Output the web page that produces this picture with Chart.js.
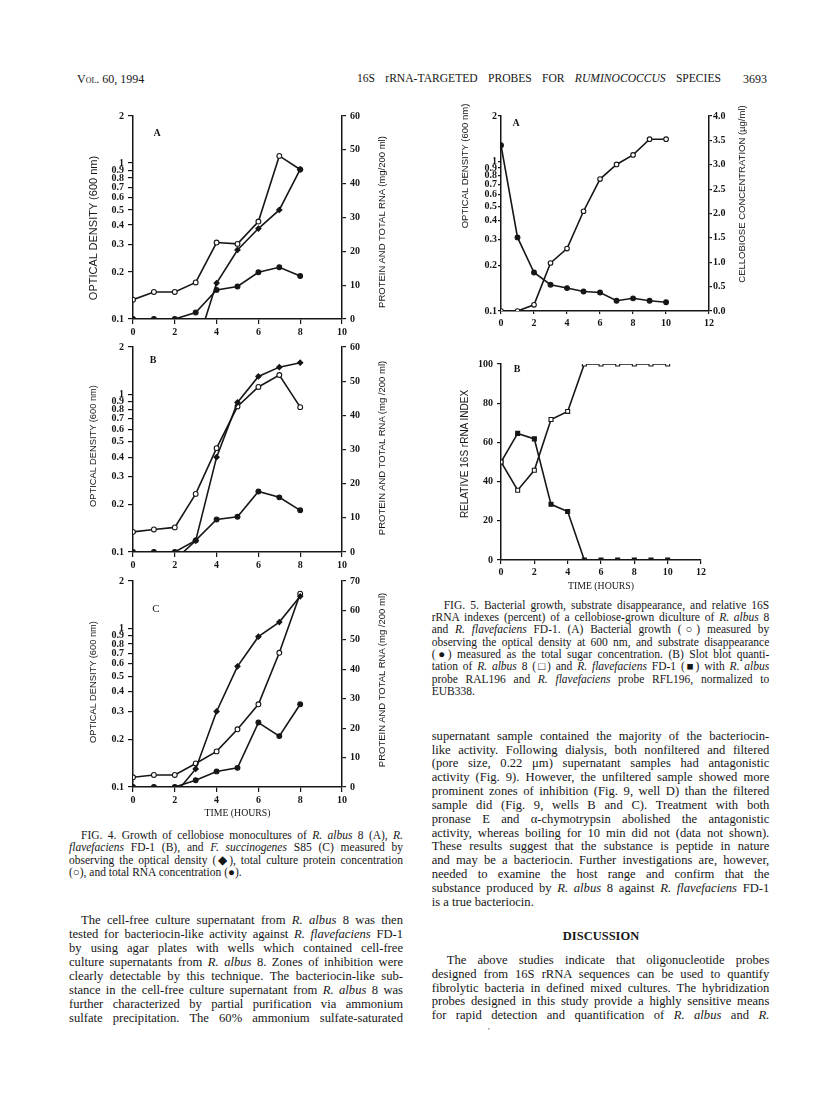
<!DOCTYPE html>
<html>
<head>
<meta charset="utf-8">
<title>16S rRNA-targeted probes for Ruminococcus species, p. 3693</title>
<script src="https://cdn.jsdelivr.net/npm/chart.js@4.4.1/dist/chart.umd.min.js"></script>
<style>
  html, body { margin: 0; padding: 0; background: #fff; }
  #page { position: relative; width: 816px; height: 1097px; overflow: hidden;
          font-family: "Liberation Serif", "Times New Roman", serif; color: #161616; }
  canvas { position: absolute; }
  .txt { position: absolute; white-space: nowrap; }
  .col { position: absolute; }
  .col div { text-align: justify; text-align-last: justify; }
  .col div.end { text-align-last: left; }
  .col div.ind { text-indent: 12px; }
  .panel { position: absolute; font-weight: bold; font-size: 10px; transform: translate(-50%, -50%); }
  /* rotated axis titles: fixed even-sized box so the text stays on whole pixels */
  .ytitle { position: absolute; width: 220px; height: 12px; margin-left: -110px; margin-top: -6px;
            text-align: center; white-space: nowrap; color: #161616;
            font-family: "Liberation Sans", Arial, sans-serif; font-size: 9.5px; line-height: 12px;
            transform: rotate(-90deg); }
</style>
</head>
<body>
<div id="page">

  <div class="txt" style="left:77px; top:72px; font-size:12px; line-height:14px; font-variant:small-caps;">Vol. 60, 1994</div>
  <div class="col" style="left:357px; top:72px; width:364px; font-size:11.6px; line-height:14px;">
    <div>16S rRNA-TARGETED PROBES FOR <i>RUMINOCOCCUS</i> SPECIES</div>
  </div>
  <div class="txt" style="left:743px; top:72px; font-size:12px; line-height:14px;">3693</div>

  <canvas id="fig4a" width="300" height="233" style="left:87px; top:106px;"></canvas>
  <canvas id="fig4b" width="300" height="235" style="left:87px; top:337px;"></canvas>
  <canvas id="fig4c" width="300" height="248" style="left:87px; top:571px;"></canvas>
  <canvas id="fig5a" width="288" height="227" style="left:459px; top:106px;"></canvas>
  <canvas id="fig5b" width="254" height="238" style="left:459px; top:354px;"></canvas>

  <!-- axis titles (all read bottom to top, as printed) -->
  <div class="ytitle" style="left:93px; top:228px; font-size:11px;">OPTICAL DENSITY (600 nm)</div>
  <div class="ytitle" style="left:382px; top:222px;">PROTEIN AND TOTAL RNA (mg/200 ml)</div>
  <div class="ytitle" style="left:93px; top:446px; font-size:9.3px;">OPTICAL DENSITY (600 nm)</div>
  <div class="ytitle" style="left:382px; top:448px;">PROTEIN AND TOTAL RNA (mg /200 ml)</div>
  <div class="ytitle" style="left:93px; top:682px; font-size:9.3px;">OPTICAL DENSITY (600 nm)</div>
  <div class="ytitle" style="left:382px; top:680px;">PROTEIN AND TOTAL RNA (mg /200 ml)</div>
  <div class="ytitle" style="left:465px; top:166px;">OPTICAL DENSITY (600 nm)</div>
  <div class="ytitle" style="left:742px; top:194px;">CELLOBIOSE CONCENTRATION (µg/ml)</div>
  <div class="ytitle" style="left:465px; top:454px; font-size:10px;">RELATIVE 16S rRNA INDEX</div>

  <div class="panel" style="left:157px; top:132px;">A</div>
  <div class="panel" style="left:153px; top:359px;">B</div>
  <div class="panel" style="left:156px; top:608px; font-size:11px; font-weight:normal;">C</div>
  <div class="panel" style="left:516px; top:122px;">A</div>
  <div class="panel" style="left:517px; top:368px;">B</div>

  <div class="col" style="left:69px; top:828.7px; width:334px; font-size:11.5px; line-height:12.6px;">
    <div class="ind">FIG. 4. Growth of cellobiose monocultures of <i>R. albus</i> 8 (A), <i>R.</i></div>
    <div><i>flavefaciens</i> FD-1 (B), and <i>F. succinogenes</i> S85 (C) measured by</div>
    <div>observing the optical density (◆), total culture protein concentration</div>
    <div class="end">(○), and total RNA concentration (●).</div>
  </div>

  <div class="col" style="left:69px; top:913px; width:334px; font-size:12.6px; line-height:14.05px;">
    <div class="ind">The cell-free culture supernatant from <i>R. albus</i> 8 was then</div>
    <div>tested for bacteriocin-like activity against <i>R. flavefaciens</i> FD-1</div>
    <div>by using agar plates with wells which contained cell-free</div>
    <div>culture supernatants from <i>R. albus</i> 8. Zones of inhibition were</div>
    <div>clearly detectable by this technique. The bacteriocin-like sub-</div>
    <div>stance in the cell-free culture supernatant from <i>R. albus</i> 8 was</div>
    <div>further characterized by partial purification via ammonium</div>
    <div>sulfate precipitation. The 60% ammonium sulfate-saturated</div>
  </div>

  <div class="col" style="left:431.7px; top:598.85px; width:337.6px; font-size:11.5px; line-height:12.3px;">
    <div class="ind">FIG. 5. Bacterial growth, substrate disappearance, and relative 16S</div>
    <div>rRNA indexes (percent) of a cellobiose-grown diculture of <i>R. albus</i> 8</div>
    <div>and <i>R. flavefaciens</i> FD-1. (A) Bacterial growth (○) measured by</div>
    <div>observing the optical density at 600 nm, and substrate disappearance</div>
    <div>(●) measured as the total sugar concentration. (B) Slot blot quanti-</div>
    <div>tation of <i>R. albus</i> 8 (□) and <i>R. flavefaciens</i> FD-1 (■) with <i>R. albus</i></div>
    <div>probe RAL196 and <i>R. flavefaciens</i> probe RFL196, normalized to</div>
    <div class="end">EUB338.</div>
  </div>

  <div class="col" style="left:431.7px; top:729.8px; width:337.6px; font-size:12.6px; line-height:13.83px;">
    <div>supernatant sample contained the majority of the bacteriocin-</div>
    <div>like activity. Following dialysis, both nonfiltered and filtered</div>
    <div>(pore size, 0.22 μm) supernatant samples had antagonistic</div>
    <div>activity (Fig. 9). However, the unfiltered sample showed more</div>
    <div>prominent zones of inhibition (Fig. 9, well D) than the filtered</div>
    <div>sample did (Fig. 9, wells B and C). Treatment with both</div>
    <div>pronase E and α-chymotrypsin abolished the antagonistic</div>
    <div>activity, whereas boiling for 10 min did not (data not shown).</div>
    <div>These results suggest that the substance is peptide in nature</div>
    <div>and may be a bacteriocin. Further investigations are, however,</div>
    <div>needed to examine the host range and confirm that the</div>
    <div>substance produced by <i>R. albus</i> 8 against <i>R. flavefaciens</i> FD-1</div>
    <div class="end">is a true bacteriocin.</div>
  </div>

  <div class="txt" style="left:601px; top:929px; transform:translateX(-50%); font-size:12.5px; line-height:14px; font-weight:bold;">DISCUSSION</div>

  <div class="col" style="left:431.7px; top:954.1px; width:337.6px; font-size:12.6px; line-height:13.75px;">
    <div style="text-indent:15px;">The above studies indicate that oligonucleotide probes</div>
    <div>designed from 16S rRNA sequences can be used to quantify</div>
    <div>fibrolytic bacteria in defined mixed cultures. The hybridization</div>
    <div>probes designed in this study provide a highly sensitive means</div>
    <div>for rapid detection and quantification of <i>R. albus</i> and <i>R.</i></div>
  </div>
  <div class="txt" style="left:488px; top:1027px; font-size:8px; line-height:10px;">'</div>
</div>

<script>
// --- Fig. 4: monocultures ---
const hours4 = [0, 1, 2, 3, 4, 5, 6, 7, 8];

// (A) R. albus 8
const odA = [null, null, null, 0.064, 0.17, 0.277, 0.38, 0.50, 0.91];
const proteinA = [5.7, 8.0, 8.0, 10.8, 22.6, 22.2, 28.8, 48.2, 44.2];
const rnaA = [0, 0, 0, 1.9, 8.6, 9.6, 13.8, 15.3, 12.7];

// (B) R. flavefaciens FD-1
const odB = [null, null, 0.089, 0.118, 0.40, 0.89, 1.30, 1.49, 1.59];
const proteinB = [5.9, 6.6, 7.2, 17.0, 30.4, 42.6, 48.3, 51.8, 42.4];
const rnaB = [0, 0, 0, 3.4, 9.5, 10.3, 17.7, 16.0, 12.2];

// (C) F. succinogenes S85
const odC = [null, null, 0.090, 0.13, 0.30, 0.578, 0.89, 1.10, 1.60];
const proteinC = [3.3, 4.1, 4.1, 8.0, 12.1, 19.6, 28.1, 45.6, 65.7];
const rnaC = [0, 0, 0, 2.3, 5.3, 6.5, 21.9, 17.3, 28.1];

// --- Fig. 5: diculture ---
const hours5 = [0, 1, 2, 3, 4, 5, 6, 7, 8, 9, 10];
const growth5 = [0.1, 0.1, 0.11, 0.209, 0.261, 0.463, 0.759, 0.95, 1.10, 1.40, 1.40];
const cellobiose5 = [3.40, 1.51, 0.79, 0.54, 0.47, 0.40, 0.38, 0.21, 0.26, 0.21, 0.18];
const albusIndex = [50, 35.6, 45.8, 71.7, 75.8, 100, 100, 100, 100, 100, 100];
const flavIndex = [50, 64.6, 61.8, 28.4, 24.7, 0, 0, 0, 0, 0, 0];

// tick labels
const odTicks = [0.1, 0.2, 0.3, 0.4, 0.5, 0.6, 0.7, 0.8, 0.9, 1, 2];
// the printed Fig. 5A time axis puts its "12" at the end of the axis line
const x5aTickPos = [0, 2, 4, 6, 8, 10, 12.6];
const x5aTickLabels = ["0", "2", "4", "6", "8", "10", "12"];

const ink = "#161616";
const tickFont = { family: "Liberation Serif", size: 10, weight: "bold" };

// --- helpers ---
function pts(xs, ys) {
  return xs.map((x, i) => ({ x, y: ys[i] })).filter(p => p.y !== null);
}

function series(data, yAxisID, shape, fill, radius) {
  return {
    data, yAxisID,
    borderColor: ink, borderWidth: 1.6,
    pointStyle: shape, pointRadius: radius,
    pointBackgroundColor: fill, pointBorderColor: ink, pointBorderWidth: 1.1,
    tension: 0
  };
}

// fixed axis sizes so every plot area lands where the printed one is
function fit(size, horizontal) {
  return s => {
    if (horizontal) s.height = size; else s.width = size;
    s.paddingLeft = s.paddingRight = s.paddingTop = s.paddingBottom = 0;
  };
}

function look(tickLength) {
  return {
    border: { display: true, color: ink, width: 1.5 },
    grid: { drawOnChartArea: false, drawTicks: true, tickLength, color: ink, lineWidth: 1.2 }
  };
}

function xTitle(text) {
  return { display: true, text, color: ink, padding: 0,
           font: { family: "Liberation Serif", size: 9.8 } };
}

const baseOptions = {
  responsive: false,
  animation: false,
  plugins: { legend: { display: false }, tooltip: { enabled: false } }
};

// Fig. 4 panels share one layout
function growthChart(id, od, protein, rna, opts) {
  return new Chart(document.getElementById(id), {
    type: "line",
    data: {
      datasets: [
        series(pts(hours4, od), "yOD", "rectRot", ink, 2.6),
        series(pts(hours4, protein), "yMass", "circle", "#fff", 2.4),
        series(pts(hours4, rna), "yMass", "circle", ink, 2.4)
      ]
    },
    options: {
      ...baseOptions,
      layout: { padding: { top: 10, right: 0, bottom: 0, left: 0 } },
      scales: {
        x: {
          type: "linear", min: 0, max: 10, ...look(5),
          ticks: { stepSize: 2, font: tickFont, color: ink, padding: 2, maxRotation: 0 },
          title: opts.xTitle ? xTitle(opts.xTitle) : { display: false },
          afterFit: fit(opts.bottom, true)
        },
        yOD: {
          type: "logarithmic", position: "left", min: 0.1, max: 2, ...look(5),
          afterBuildTicks: s => { s.ticks = odTicks.map(value => ({ value })); },
          ticks: { font: tickFont, color: ink, padding: 4, autoSkip: false, callback: v => String(v) },
          afterFit: fit(46)
        },
        yMass: {
          type: "linear", position: "right", min: 0, max: opts.massMax, ...look(4),
          ticks: { stepSize: 10, font: tickFont, color: ink, padding: 4 },
          afterFit: fit(45)
        }
      }
    }
  });
}

growthChart("fig4a", odA, proteinA, rnaA, { bottom: 20, massMax: 60 });
growthChart("fig4b", odB, proteinB, rnaB, { bottom: 20, massMax: 60 });
growthChart("fig4c", odC, proteinC, rnaC, { bottom: 32, massMax: 70, xTitle: "TIME (HOURS)" });

// Fig. 5A: growth (log) and cellobiose (linear)
new Chart(document.getElementById("fig5a"), {
  type: "line",
  data: {
    datasets: [
      series(pts(hours5, growth5), "yOD", "circle", "#fff", 2.3),
      series(pts(hours5, cellobiose5), "ySugar", "circle", ink, 2.4)
    ]
  },
  options: {
    ...baseOptions,
    layout: { padding: { top: 10, right: 0, bottom: 0, left: 0 } },
    scales: {
      x: {
        type: "linear", min: 0, max: 12.6, ...look(3),
        afterBuildTicks: s => { s.ticks = x5aTickPos.map(value => ({ value })); },
        ticks: { font: tickFont, color: ink, padding: 3, maxRotation: 0, autoSkip: false,
                 callback: (v, i) => x5aTickLabels[i] },
        afterFit: fit(22, true)
      },
      yOD: {
        type: "logarithmic", position: "left", min: 0.1, max: 2, ...look(3),
        afterBuildTicks: s => { s.ticks = odTicks.map(value => ({ value })); },
        ticks: { font: tickFont, color: ink, padding: 1, autoSkip: false, callback: v => String(v) },
        afterFit: fit(42)
      },
      ySugar: {
        type: "linear", position: "right", min: 0, max: 4, ...look(3),
        ticks: { stepSize: 0.5, font: tickFont, color: ink, padding: 1, callback: v => v.toFixed(1) },
        afterFit: fit(38)
      }
    }
  }
});

// Fig. 5B: relative 16S rRNA index
new Chart(document.getElementById("fig5b"), {
  type: "line",
  data: {
    datasets: [
      series(pts(hours5, albusIndex), "y", "rect", "#fff", 2.8),
      series(pts(hours5, flavIndex), "y", "rect", ink, 2.8)
    ]
  },
  options: {
    ...baseOptions,
    layout: { padding: { top: 10, right: 12, bottom: 0, left: 0 } },
    scales: {
      x: {
        type: "linear", min: 0, max: 12, ...look(4),
        ticks: { stepSize: 2, font: tickFont, color: ink, padding: 2, maxRotation: 0 },
        title: xTitle("TIME (HOURS)"),
        afterFit: fit(32, true)
      },
      y: {
        type: "linear", position: "left", min: 0, max: 100, ...look(4),
        ticks: { stepSize: 20, font: tickFont, color: ink, padding: 4 },
        afterFit: fit(42)
      }
    }
  }
});
</script>
</body>
</html>
